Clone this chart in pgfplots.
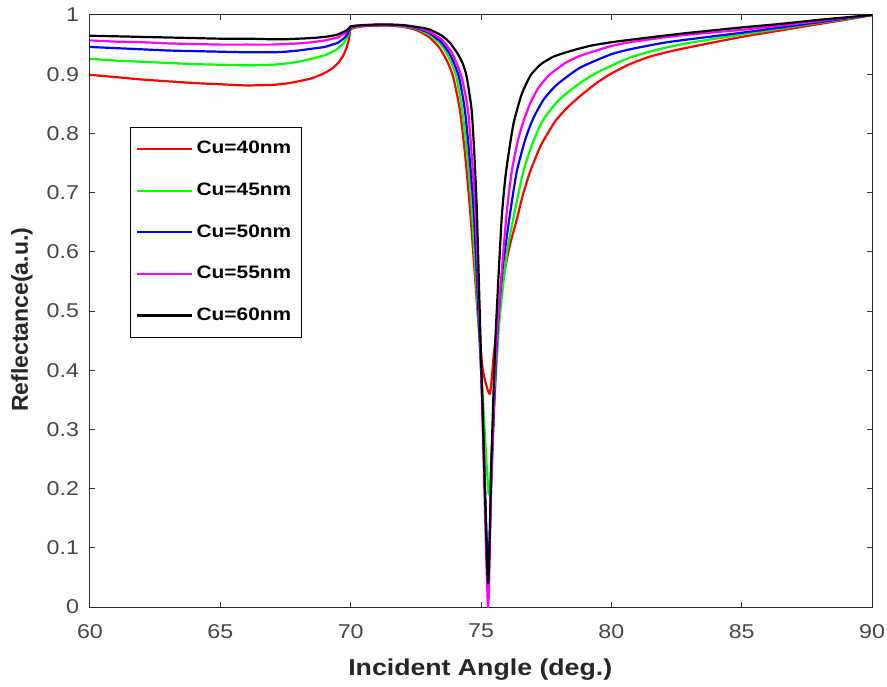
\documentclass[border=0pt]{standalone}
\usepackage{pgfplots}
\pgfplotsset{compat=1.18}
\usepackage{fontspec}
\setmainfont{Liberation Sans}[FakeStretch=1.16]
\newfontfamily\ylfont{Liberation Sans}
\definecolor{tickgray}{RGB}{70,70,70}
\definecolor{labgray}{RGB}{38,38,38}
\definecolor{cred}{RGB}{255,0,0}
\definecolor{cgreen}{RGB}{0,255,0}
\definecolor{cblue}{RGB}{0,0,255}
\definecolor{cmag}{RGB}{255,0,255}
\begin{document}
\begin{tikzpicture}
\begin{axis}[
  scale only axis, width=391pt, height=296pt,
  xmin=60, xmax=90, ymin=0, ymax=1,
  xtick={60,65,70,75,80,85,90},
  ytick={0,0.1,0.2,0.3,0.4,0.5,0.6,0.7,0.8,0.9,1},
  yticklabels={0,0.1,0.2,0.3,0.4,0.5,0.6,0.7,0.8,0.9,1},
  xticklabels={60,65,70,75,80,85,90},
  tick align=inside, tick pos=both, major tick length=2.5pt,
  axis line style={black!85, line width=0.5pt},
  tick style={black!80, line width=0.5pt},
  ticklabel style={font=\fontsize{10}{12}\selectfont, text=tickgray},
  xticklabel style={yshift=-5pt},
  yticklabel style={xshift=-2pt},
  /pgf/number format/assume math mode=true,
  xlabel={Incident Angle (deg.)},
  ylabel={\ylfont\bfseries Reflectance(a.u.)},
  label style={font=\fontsize{11.5}{13}\selectfont\bfseries, text=labgray},
  xlabel style={at={(rel axis cs:0.499,0)}, anchor=center, yshift=-31.5pt},
  ylabel style={at={(rel axis cs:0,0.485)}, anchor=center, yshift=34pt},
  legend style={at={(0.051,0.811)}, anchor=north west, draw=black, fill=white,
    line width=0.5pt, font=\fontsize{9}{10}\selectfont\bfseries, text=black,
    row sep=9pt, inner xsep=3pt, inner ysep=5pt, cells={anchor=west}},
  legend image code/.code={\draw[#1] (0cm,0cm) -- (0.95cm,0cm);},
  every axis plot/.append style={line width=1.1pt, no marks, line join=round, smooth, tension=0.35},
]
\addplot[cred] coordinates {
(60,0.899) (61,0.895) (62,0.891) (63,0.888) (64,0.885) (65,0.883) (66,0.881) (67,0.882) (67.5,0.884) (68,0.888) (68.5,0.893) (69,0.902) (69.3,0.910) (69.5,0.918) (69.7,0.930) (69.8,0.940) (69.9,0.953) (69.95,0.963) (70,0.976) (70.2,0.979) (70.5,0.981) (71,0.982) (71.5,0.982) (72,0.980) (72.5,0.975) (73,0.963) (73.4,0.945) (73.7,0.922) (73.93,0.896) (74.19,0.840) (74.4,0.76) (74.58,0.671) (74.75,0.57) (74.9,0.48) (75.07,0.40) (75.34,0.36) (75.5,0.43) (75.8,0.54) (76.1,0.61) (76.37,0.654) (76.6,0.695) (76.88,0.735) (77.3,0.780) (77.84,0.820) (78.3,0.843) (78.8,0.863) (79.4,0.884) (79.95,0.900) (80.71,0.917) (81.5,0.930) (82.5,0.941) (83.5,0.950) (85,0.963) (86.5,0.974) (88,0.985) (89,0.992) (90,1.0)
};
\addlegendentry{Cu=40nm}
\addplot[cgreen] coordinates {
(60,0.926) (61,0.923) (62,0.921) (63,0.919) (64,0.917) (65,0.916) (66,0.915) (67,0.916) (67.5,0.918) (68,0.921) (68.5,0.926) (69,0.932) (69.3,0.938) (69.5,0.943) (69.7,0.951) (69.8,0.957) (69.9,0.966) (69.95,0.972) (70,0.978) (70.2,0.980) (70.5,0.982) (71,0.983) (71.5,0.983) (72,0.981) (72.5,0.977) (73,0.967) (73.5,0.948) (73.8,0.925) (74.05,0.896) (74.28,0.840) (74.48,0.76) (74.65,0.671) (74.85,0.52) (75.05,0.37) (75.3,0.19) (75.45,0.30) (75.7,0.48) (76.0,0.60) (76.23,0.654) (76.62,0.735) (77.0,0.786) (77.39,0.823) (78.0,0.857) (78.8,0.885) (79.5,0.904) (80.71,0.928) (82,0.944) (83,0.953) (85,0.967) (86.5,0.977) (88,0.987) (89,0.993) (90,1.0)
};
\addlegendentry{Cu=45nm}
\addplot[cblue] coordinates {
(60,0.946) (61,0.944) (62,0.942) (63,0.940) (64,0.939) (65,0.938) (66,0.937) (67,0.937) (67.5,0.938) (68,0.940) (68.5,0.943) (69,0.946) (69.3,0.950) (69.5,0.953) (69.7,0.959) (69.8,0.963) (69.9,0.970) (69.95,0.975) (70,0.979) (70.2,0.981) (70.5,0.982) (71,0.983) (71.5,0.983) (72,0.982) (72.5,0.978) (73,0.970) (73.5,0.953) (73.85,0.930) (74.15,0.896) (74.38,0.840) (74.56,0.76) (74.72,0.671) (74.9,0.50) (75.05,0.35) (75.27,0.06) (75.4,0.22) (75.6,0.44) (75.8,0.56) (76.08,0.654) (76.37,0.735) (76.7,0.790) (77.0,0.825) (77.4,0.857) (77.9,0.882) (78.8,0.911) (79.95,0.933) (80.71,0.942) (82,0.953) (83,0.959) (85,0.970) (86.5,0.979) (88,0.988) (89,0.994) (90,1.0)
};
\addlegendentry{Cu=50nm}
\addplot[cmag] coordinates {
(60,0.957) (61,0.955) (62,0.954) (63,0.952) (64,0.951) (65,0.950) (66,0.950) (67,0.950) (67.5,0.951) (68,0.952) (68.5,0.954) (69,0.957) (69.3,0.960) (69.5,0.962) (69.7,0.967) (69.8,0.970) (69.9,0.975) (69.95,0.978) (70,0.980) (70.2,0.981) (70.5,0.982) (71,0.983) (71.5,0.983) (72,0.982) (72.5,0.979) (73,0.972) (73.5,0.958) (73.9,0.935) (74.25,0.896) (74.5,0.840) (74.65,0.76) (74.78,0.671) (74.93,0.50) (75.05,0.33) (75.27,0.0) (75.4,0.22) (75.6,0.45) (75.96,0.654) (76.17,0.733) (76.4,0.785) (76.61,0.818) (76.88,0.850) (77.19,0.876) (77.6,0.898) (78.2,0.918) (78.8,0.931) (79.95,0.947) (80.71,0.954) (82,0.962) (83,0.967) (85,0.975) (86.5,0.982) (88,0.990) (89,0.995) (90,1.0)
};
\addlegendentry{Cu=55nm}
\addplot[black] coordinates {
(60,0.965) (61,0.964) (62,0.963) (63,0.962) (64,0.961) (65,0.960) (66,0.960) (67,0.959) (67.5,0.959) (68,0.960) (68.5,0.961) (69,0.963) (69.3,0.965) (69.5,0.967) (69.7,0.971) (69.8,0.973) (69.9,0.976) (69.95,0.978) (70,0.981) (70.2,0.982) (70.5,0.983) (71,0.984) (71.5,0.984) (72,0.983) (72.5,0.980) (73,0.976) (73.5,0.965) (73.81,0.953) (74.1,0.935) (74.3,0.918) (74.45,0.896) (74.64,0.840) (74.75,0.76) (74.84,0.671) (74.95,0.50) (75.05,0.35) (75.27,0.04) (75.4,0.25) (75.55,0.45) (75.79,0.654) (75.96,0.735) (76.24,0.815) (76.56,0.866) (76.9,0.898) (77.3,0.917) (77.8,0.930) (78.5,0.940) (79.2,0.948) (80,0.954) (80.71,0.958) (82,0.965) (83,0.970) (85,0.979) (86.5,0.985) (88,0.992) (89,0.996) (90,1.0)
};
\addlegendentry{Cu=60nm}
\end{axis}
\pgfresetboundingbox
\path ([xshift=-45pt,yshift=-39.5pt]current axis.south west) rectangle ([xshift=7.5pt,yshift=7.5pt]current axis.north east);
\end{tikzpicture}
\end{document}
